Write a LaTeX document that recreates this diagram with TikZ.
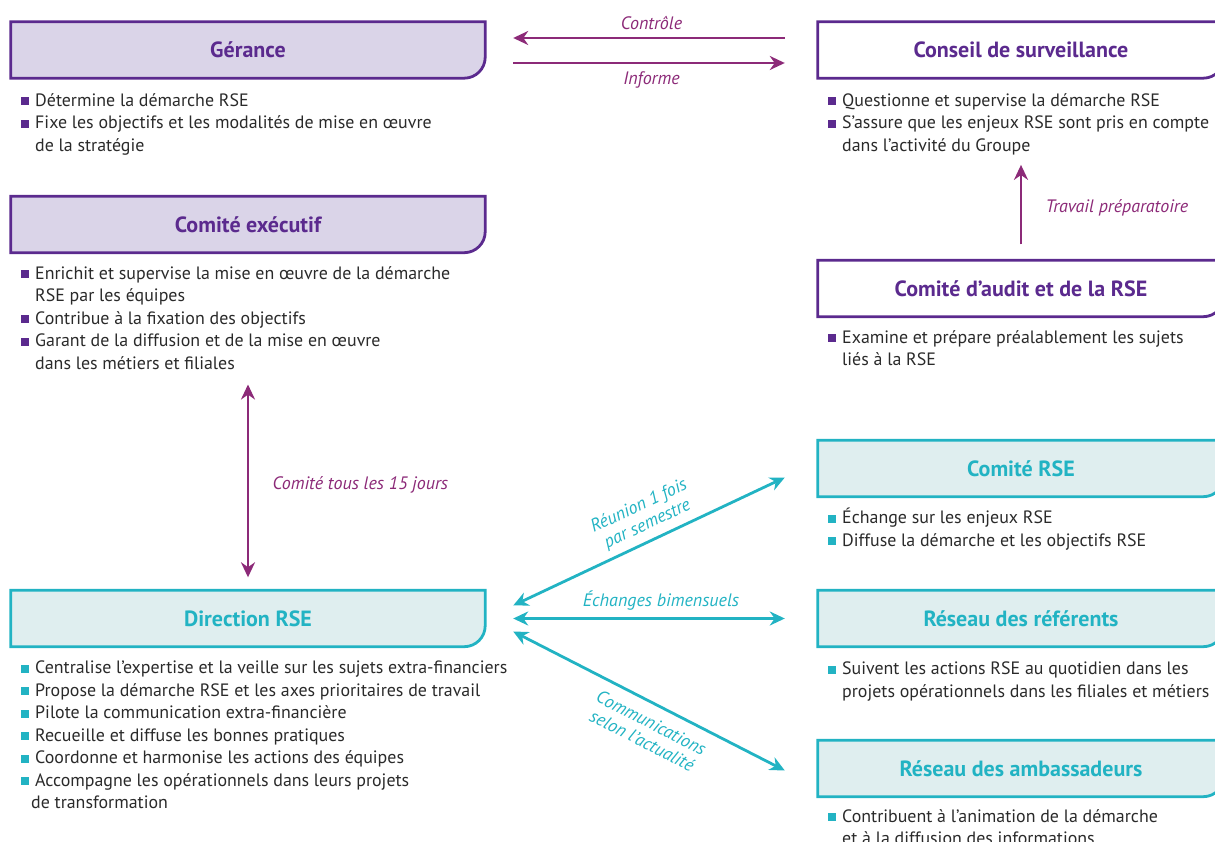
\documentclass[tikz,border=0pt]{standalone}
\usepackage{fontspec}
\setmainfont{PT Sans}
\usetikzlibrary{arrows.meta,backgrounds}

\definecolor{violetb}{HTML}{5B2A8E}
\definecolor{lavande}{HTML}{DAD4E8}
\definecolor{prune}{HTML}{8C2A78}
\definecolor{turq}{HTML}{22B3C3}
\definecolor{turqfond}{HTML}{DFEEEF}
\definecolor{texte}{HTML}{2A2A2A}

\newcommand{\bul}[1]{\llap{\textcolor{#1}{\rule[1pt]{8pt}{8pt}}\hspace{6pt}}}

\tikzset{
  titre/.style={minimum width=#1, minimum height=56pt, inner sep=0pt, font=\bfseries\fontsize{22}{24}\selectfont},
  liste/.style={anchor=north west, inner sep=0pt, align=left, text=texte, font=\fontsize{17.9}{22.5}\selectfont,
    execute at begin node=\rule{0pt}{17pt}},
  etiq/.style={font=\itshape\fontsize{18}{20}\selectfont, align=center},
  fl/.style={line width=2.8pt},
  cadre/.style={line width=2.8pt},
}

\begin{document}
\begin{tikzpicture}[x=1pt, y=-1pt, >={Stealth[length=15pt,width=14pt]}]
\clip (0,0) rectangle (1215,842);

% colonne de gauche
\node[titre=474pt, text=violetb] (ger) at (248,50) {Gérance};
\node[liste] (gerl) at (35,93) {\bul{violetb}Détermine la démarche RSE\\
\bul{violetb}Fixe les objectifs et les modalités de mise en œuvre\\
de la stratégie};

\node[titre=474pt, text=violetb] (cex) at (248,224.5) {Comité exécutif};
\node[liste] (cexl) at (35,266) {\bul{violetb}Enrichit et supervise la mise en œuvre de la démarche\\
RSE par les équipes\\
\bul{violetb}Contribue à la fixation des objectifs\\
\bul{violetb}Garant de la diffusion et de la mise en œuvre\\
dans les métiers et filiales};

\node[titre=474pt, text=turq] (dir) at (248,618.5) {Direction RSE};
\node[liste] (dirl) at (35,661) {\bul{turq}Centralise l'expertise et la veille sur les sujets extra-financiers\\
\bul{turq}Propose la démarche RSE et les axes prioritaires de travail\\
\bul{turq}Pilote la communication extra-financière\\
\bul{turq}Recueille et diffuse les bonnes pratiques\\
\bul{turq}Coordonne et harmonise les actions des équipes\\
\bul{turq}Accompagne les opérationnels dans leurs projets\\
\hspace*{-4pt}de transformation};

% colonne de droite
\node[titre=406pt, text=violetb] (cs) at (1021,50) {Conseil de surveillance};
\node[liste] (csl) at (842,93) {\bul{violetb}Questionne et supervise la démarche RSE\\
\bul{violetb}S'assure que les enjeux RSE sont pris en compte\\
dans l'activité du Groupe};

\node[titre=406pt, text=violetb] (audit) at (1021,288.5) {Comité d'audit et de la RSE};
\node[liste] (auditl) at (842,330) {\bul{violetb}Examine et prépare préalablement les sujets\\
liés à la RSE};

\node[titre=406pt, text=turq] (crse) at (1021,468.5) {Comité RSE};
\node[liste] (crsel) at (842,508) {\bul{turq}Échange sur les enjeux RSE\\
\bul{turq}Diffuse la démarche et les objectifs RSE};

\node[titre=406pt, text=turq] (ref) at (1021,618.5) {Réseau des référents};
\node[liste] (refl) at (842,662) {\bul{turq}Suivent les actions RSE au quotidien dans les\\
projets opérationnels dans les filiales et métiers};

\node[titre=406pt, text=turq] (amb) at (1021,768.5) {Réseau des ambassadeurs};
\node[liste] (ambl) at (842,809) {\bul{turq}Contribuent à l'animation de la démarche\\
et à la diffusion des informations};

% cadres
\begin{scope}[on background layer]
\foreach \n/\bord/\fond in {ger/violetb/lavande, cex/violetb/lavande, cs/violetb/white, audit/violetb/white,
  dir/turq/turqfond, crse/turq/turqfond, ref/turq/turqfond, amb/turq/turqfond}
  \draw[cadre, draw=\bord, fill=\fond] (\n.north west) -- (\n.north east) -- ([yshift=21pt]\n.south east)
    arc[start angle=0, end angle=-90, radius=21pt] -- (\n.south west) -- cycle;
\end{scope}

% fleches violettes
\draw[fl, prune, ->, shorten <=33pt, shorten >=28pt] ([yshift=12pt]cs.west) -- ([yshift=12pt]ger.east)
  node[etiq, midway, above=4pt] {Contrôle};
\draw[fl, prune, ->, shorten <=28pt, shorten >=33pt] ([yshift=-13pt]ger.east) -- ([yshift=-13pt]cs.west)
  node[etiq, midway, below=4pt] {Informe};
\draw[fl, prune, <->, shorten <=15pt, shorten >=13pt] (cexl.south -| cex.south) -- (dir.north)
  node[etiq, midway, right=20pt, yshift=-5pt] {Comité tous les 15 jours};
\draw[fl, prune, ->, shorten <=16pt, shorten >=10pt] (audit.north) -- (audit.north |- csl.south)
  node[etiq, midway, right=20pt] {Travail préparatoire};

% fleches turquoise
\draw[fl, turq, <->] ([xshift=28pt, yshift=13pt]dir.east) -- ([xshift=-33pt, yshift=-9pt]crse.west)
  node[etiq, midway, sloped, above=3pt, xshift=6pt] {Réunion 1 fois\\par semestre};
\draw[fl, turq, <->] ([xshift=28pt]dir.east) -- ([xshift=-33pt]ref.west)
  node[etiq, midway, above=3pt, xshift=12pt] {Échanges bimensuels};
\draw[fl, turq, <->] ([xshift=28pt, yshift=-13pt]dir.east) -- ([xshift=-33pt, yshift=-2pt]amb.west)
  node[etiq, midway, sloped, below=7pt, xshift=12pt] {Communications\\selon l'actualité};
\end{tikzpicture}
\end{document}
